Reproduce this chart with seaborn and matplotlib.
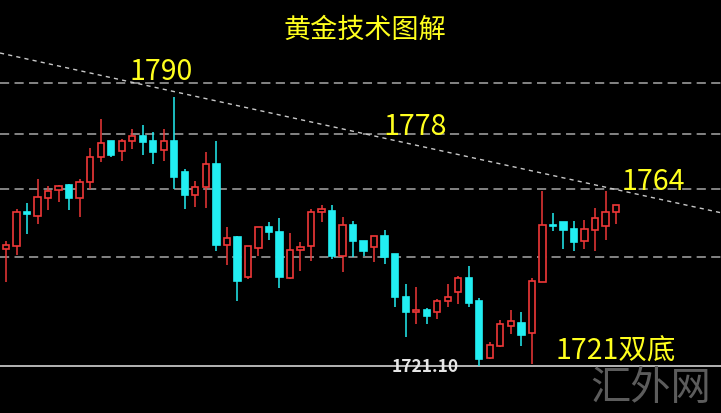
import numpy as np
import pandas as pd
import matplotlib
matplotlib.use("Agg")
import matplotlib.pyplot as plt
import seaborn as sns

# ---------------- data (gold price) ----------------
bar_index = list(range(0, 60))
opens = [1754.0, 1749.6, 1750.3, 1758.6, 1757.6, 1762.0, 1763.9, 1765.2, 1762.0, 1765.9,
         1772.0, 1775.9, 1773.4, 1775.9, 1777.1, 1775.9, 1773.7, 1775.9, 1768.3, 1762.7,
         1764.7, 1770.3, 1750.6, 1752.5, 1742.8, 1749.8, 1754.9, 1753.7, 1742.5, 1749.3,
         1750.3, 1758.6, 1758.8, 1747.9, 1755.4, 1751.5, 1750.1, 1752.7, 1748.4, 1737.9,
         1734.2, 1734.7, 1734.2, 1736.9, 1739.1, 1742.5, 1736.9, 1723.0, 1726.0, 1730.8,
         1731.6, 1729.1, 1741.5, 1755.4, 1756.2, 1754.5, 1751.5, 1754.2, 1755.2, 1758.6]
highs = [1754.5, 1751.5, 1759.3, 1760.8, 1766.6, 1764.9, 1765.2, 1765.4, 1766.6, 1774.2,
         1781.2, 1775.9, 1776.4, 1778.8, 1779.8, 1778.1, 1778.8, 1786.6, 1769.1, 1766.1,
         1773.2, 1775.9, 1754.9, 1752.7, 1750.3, 1754.9, 1756.2, 1757.1, 1753.5, 1751.3,
         1759.3, 1760.3, 1760.3, 1757.4, 1756.4, 1751.5, 1752.7, 1754.2, 1748.4, 1741.1,
         1740.3, 1735.2, 1737.4, 1741.1, 1743.0, 1745.4, 1737.6, 1726.9, 1732.3, 1734.7,
         1734.2, 1742.5, 1763.7, 1758.3, 1756.2, 1756.4, 1756.6, 1759.6, 1763.7, 1760.3]
lows = [1749.6, 1741.6, 1748.1, 1753.2, 1755.7, 1759.1, 1761.0, 1759.1, 1757.4, 1764.2,
        1770.8, 1772.0, 1771.0, 1773.9, 1772.5, 1770.3, 1771.0, 1764.2, 1759.3, 1759.8,
        1759.6, 1749.1, 1745.7, 1736.9, 1742.3, 1747.9, 1751.8, 1740.1, 1742.3, 1744.2,
        1746.7, 1756.2, 1747.1, 1744.0, 1747.6, 1747.9, 1746.4, 1745.9, 1735.5, 1728.2,
        1731.3, 1731.3, 1732.5, 1735.5, 1736.2, 1735.5, 1721.1, 1722.8, 1725.7, 1728.9,
        1726.0, 1721.6, 1741.5, 1754.0, 1749.6, 1749.1, 1749.6, 1749.1, 1751.8, 1755.7]
closes = [1750.6, 1750.6, 1758.6, 1758.1, 1762.2, 1763.7, 1764.9, 1762.0, 1765.9, 1772.0,
          1775.4, 1772.5, 1775.9, 1777.1, 1775.6, 1773.2, 1775.9, 1767.1, 1762.7, 1764.7,
          1770.3, 1750.6, 1752.3, 1741.8, 1750.3, 1754.9, 1753.7, 1742.8, 1749.3, 1750.1,
          1758.6, 1759.3, 1747.9, 1755.4, 1751.5, 1749.1, 1752.7, 1747.6, 1737.9, 1734.2,
          1734.7, 1733.3, 1736.9, 1737.9, 1742.5, 1736.4, 1722.8, 1726.2, 1731.3, 1732.0,
          1728.6, 1741.8, 1755.4, 1755.2, 1754.2, 1751.3, 1754.5, 1757.1, 1758.6, 1760.3]

level_lines = [1790.0, 1777.5, 1764.2, 1747.6]        # dashed horizontal levels
trend_x = [0.43, 68.98]                                # resistance trend line
trend_y = [1797.3, 1758.4]
bid_price = 1721.10
bid_label = "1721.10"
title = "黄金技术图解"
level_labels = ["1790", "1778", "1764", "1721双底"]
label_x = [15.74, 39.89, 62.57, 59.0]
label_y = [1791.0, 1777.6, 1764.2, 1722.8]
watermark = "汇外网"

# ---------------- drawing ----------------
df = pd.DataFrame({"i": bar_index, "open": opens, "high": highs,
                   "low": lows, "close": closes})
df["up"] = df["close"] >= df["open"]

sns.set_style("dark", {"axes.facecolor": "black", "figure.facecolor": "black"})
plt.rcParams["font.family"] = ["Noto Sans CJK SC", "DejaVu Sans"]

RED = "#f03838"
CYAN = "#22eef2"
GRID = "#a8a8a8"

fig = plt.figure(figsize=(7.21, 4.14), dpi=100, facecolor="black")
ax = fig.add_axes([0, 0, 1, 1])
ax.set_facecolor("black")

# level lines
for lv in level_lines:
    ax.axhline(lv, color=GRID, lw=1.1, ls=(0, (6, 3.5)), zorder=1)
# bid line
ax.axhline(bid_price, color="#b4b4b4", lw=1.4, zorder=1)

# trend line (seaborn)
tl = pd.DataFrame({"x": trend_x, "y": trend_y})
sns.lineplot(data=tl, x="x", y="y", ax=ax, color="#c8c8c8", lw=1.0,
             linestyle=(0, (3, 3)), zorder=2)

# candles
body_w = 0.6
for _, r in df.iterrows():
    col = RED if r["up"] else CYAN
    top = max(r["open"], r["close"])
    bot = min(r["open"], r["close"])
    ax.vlines(r["i"], top, r["high"], color=col, lw=1.1, zorder=3)
    ax.vlines(r["i"], r["low"], bot, color=col, lw=1.1, zorder=3)
    h = max(top - bot, 0.05)
    if r["up"]:
        ax.bar(r["i"], h, bottom=bot, width=body_w, facecolor="black",
               edgecolor=col, lw=1.2, zorder=4)
    else:
        ax.bar(r["i"], h, bottom=bot, width=body_w, facecolor=col,
               edgecolor=col, lw=1.2, zorder=4)

ax.set_xlim(0.43, 68.98)
ax.set_ylim(1709.65, 1810.45)
ax.set_xlabel("")
ax.set_ylabel("")
ax.set_xticks([])
ax.set_yticks([])
for s in ax.spines.values():
    s.set_visible(False)
if ax.get_legend():
    ax.get_legend().remove()

# texts
fig.text(365 / 721, 1 - 30 / 414, title, color="#ffff1e", fontsize=19.5,
         ha="center", va="center")
for t, x, y in zip(level_labels, label_x, label_y):
    ax.text(x, y, t, color="#ffff1e", fontsize=20.5, ha="center",
            va="baseline", zorder=6)
ax.text(40.84, bid_price, bid_label, color="#e6e6e6", fontsize=12.5,
        fontweight="bold", ha="center", va="center", zorder=6)
fig.text(651 / 721, 1 - 389 / 414, watermark, color="#5c5c5c", fontsize=29,
         ha="center", va="center", fontweight="light")

fig.savefig("out.png", dpi=100, facecolor="black")
